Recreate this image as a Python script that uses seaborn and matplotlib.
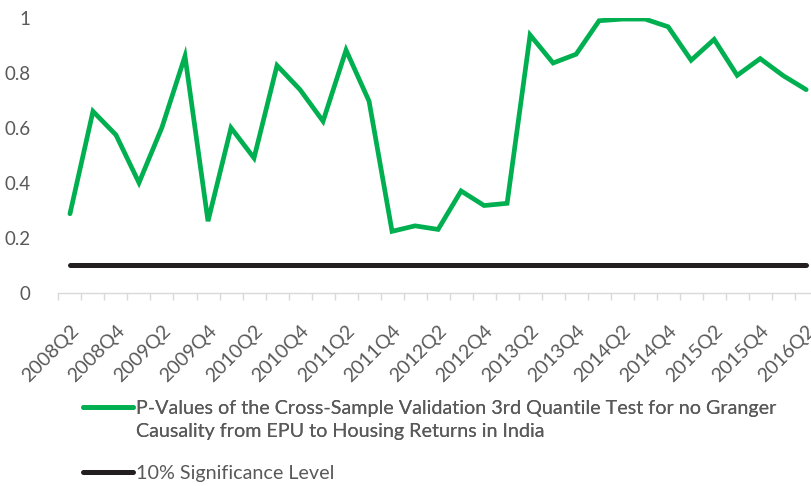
import pandas as pd
import numpy as np
import matplotlib.pyplot as plt
import seaborn as sns
from matplotlib.ticker import FixedLocator
from matplotlib.lines import Line2D

# --- DATA ---
quarters = [f"{y}Q{q}" for y in range(2008, 2017) for q in range(1, 5)][1:34]
p_values = [0.287, 0.660, 0.574, 0.400, 0.602, 0.861, 0.260, 0.600, 0.490, 0.827,
            0.739, 0.624, 0.883, 0.697, 0.223, 0.243, 0.230, 0.370, 0.317, 0.325,
            0.938, 0.836, 0.868, 0.990, 0.996, 0.996, 0.968, 0.846, 0.922, 0.791,
            0.852, 0.790, 0.739]
sig_level = [0.10] * len(quarters)
y_ticks = [0, 0.2, 0.4, 0.6, 0.8, 1]
y_tick_labels = ["0", "0.2", "0.4", "0.6", "0.8", "1"]

label_p_1 = "P-Values of the Cross-Sample Validation 3rd Quantile Test for no Granger"
label_p_2 = "Causality from EPU to Housing Returns in India"
label_sig = "10% Significance Level"

GREEN = '#00B050'
BLACK = '#231F20'
GRAY_TXT = '#595959'
GRAY_AX = '#D9D9D9'

# Set visual style
sns.set_theme(style="white")
plt.rcParams['font.family'] = ['Lato', 'DejaVu Sans']

df = pd.DataFrame({'quarter': quarters, 'idx': np.arange(len(quarters)),
                   'p': p_values, 'sig': sig_level})

fig = plt.figure(figsize=(8.12, 4.86), dpi=100)
ax = fig.add_axes([0.072, 0.398, 0.935, 0.565])

sns.lineplot(data=df, x='idx', y='p', ax=ax, color=GREEN, lw=3.4,
             solid_capstyle='round', solid_joinstyle='miter', legend=False)
sns.lineplot(data=df, x='idx', y='sig', ax=ax, color=BLACK, lw=3.6,
             solid_capstyle='round', legend=False)

ax.set_xlim(-0.5, len(quarters) - 0.5)
ax.set_ylim(0, 1)
ax.set_xlabel('')
ax.set_ylabel('')

# y axis
ax.set_yticks(y_ticks)
ax.set_yticklabels(y_tick_labels, fontsize=13.5, color=GRAY_TXT)
ax.tick_params(axis='y', length=0, pad=20)

# x axis: labels every second quarter, tick marks between categories
ax.set_xticks(df['idx'][::2])
ax.set_xticklabels(df['quarter'][::2], rotation=45, ha='right', rotation_mode='anchor',
                   fontsize=14, color=GRAY_TXT)
ax.xaxis.set_minor_locator(FixedLocator(np.arange(-0.5, len(quarters), 1)))
ax.tick_params(axis='x', which='major', length=0, pad=21)
ax.tick_params(axis='x', which='minor', length=5, width=1, color=GRAY_AX, direction='out')
ax.xaxis.set_tick_params(which='minor', bottom=True)

for side in ['top', 'right', 'left']:
    ax.spines[side].set_visible(False)
ax.spines['bottom'].set_color(GRAY_AX)
ax.spines['bottom'].set_linewidth(1)
ax.grid(False)

# Legend below the plot (two legends so the wrapped label keeps its handle on line one)
green_h = Line2D([], [], color=GREEN, lw=3.4, solid_capstyle='round')
blank_h = Line2D([], [], color='none')
black_h = Line2D([], [], color=BLACK, lw=3.6, solid_capstyle='round')
leg_kw = dict(frameon=False, fontsize=14.2, handlelength=2.55, handletextpad=0.15,
              borderpad=0, borderaxespad=0)

leg1 = fig.legend([green_h, blank_h], [label_p_1, label_p_2], loc='center left',
                  bbox_to_anchor=(0.102, 1 - 420 / 486), labelspacing=0.35, **leg_kw)
leg2 = fig.legend([black_h], [label_sig], loc='center left',
                  bbox_to_anchor=(0.102, 1 - 473 / 486), **leg_kw)
fig.add_artist(leg1)
for leg in (leg1, leg2):
    for t in leg.get_texts():
        t.set_color(GRAY_TXT)

plt.savefig('out.png', dpi=100)
plt.close()
